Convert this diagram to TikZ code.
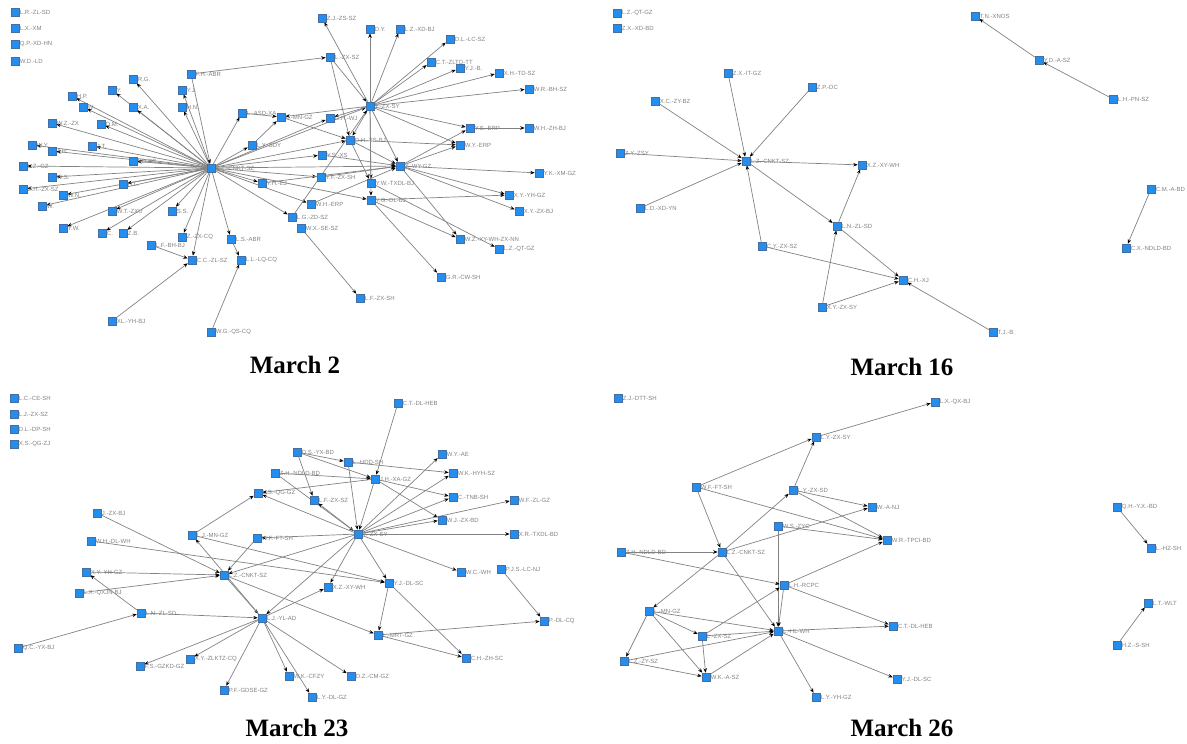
\documentclass[tikz,border=0pt]{standalone}
\usepackage{fontspec}
\setmainfont{Liberation Serif}
\setsansfont{Liberation Sans}
\usetikzlibrary{arrows.meta,backgrounds}
\tikzset{>={Stealth[length=4.5pt,width=3.5pt,color=black]},
  vx/.style={rectangle,draw={rgb,255:red,70;green,110;blue,160},fill={rgb,255:red,36;green,142;blue,238},
    line width=.5pt,minimum size=8pt,inner sep=0pt,label distance=1.5pt},
  lbl/.style={font=\sffamily\fontsize{6}{6}\selectfont,text={rgb,255:red,130;green,130;blue,130},inner sep=.5pt},
  ed/.style={->,draw={rgb,255:red,130;green,130;blue,130},line width=.7pt},
  ttl/.style={font=\bfseries\fontsize{25}{28}\selectfont}}

\begin{document}
\begin{tikzpicture}[x=1pt,y=-1pt]
    \useasboundingbox (0,0) rectangle (1187,744);
    % March 2
    \foreach \n/\x/\y/\lb in {p1a/15/12/{L.R.-ZL-SD},p1b/15/28/{L.X.-XM},p1c/15/44/{Q.P.-XD-HN},p1d/15/61/{W.D.-LD},
        p1e/322/18/{Z.J.-ZS-SZ},p1f/370/29/{D.Y.},p1g/400/29/{L.Z.-XD-BJ},p1h/450/39/{D.L.-LC-SZ},
        p1i/431/62/{C.T.-ZLTO-TT},p1j/460/68/{Y.J.-B.},p1k/499/73/{X.H.-TD-SZ},p1l/529/89/{W.R.-BH-SZ},
        p1m/330/57/{L.-ZX-SZ},p1n/191/74/{F.H.-ABR},p1o/133/79/{R.G.},p1p/112/90/{Y.},p1q/182/90/{Y.J.},
        p1r/72/96/{H.P.},p1s/83/107/{W.},p1t/133/107/{X.A.},p1u/182/107/{H.N.},p1v/52/123/{W.Z.-ZX},
        p1w/101/124/{D.M.},p1x/242/113/{L.-ASD-XA},p1y/281/117/{L.-MN-GZ},p1h2/370/106/{Y.-ZX-SY},
        p1z/330/118/{C.H.-WJ},p1h4/350/140/{D.H.-YS-BJ},p1aa/470/128/{Y.S.-ERP},p1ab/529/128/{W.H.-ZH-BJ},
        p1ac/460/145/{W.Y.-ERP},p1ad/322/155/{Y.S.-XS},p1h1/211/168/{L.Z.-CNKT-SZ},p1ae/32/145/{W.Y.},
        p1af/52/151/{J.H.},p1ag/92/146/{J.T.},p1ah/133/161/{XD-BS},p1ai/23/166/{L.Z.-GZ},p1aj/52/177/{W.S.},
        p1ak/23/189/{Z.H.-ZX-SZ},p1al/63/195/{W.N.},p1am/123/184/{H.L.},p1an/42/206/{W.},p1ao/112/211/{W.T.-ZXU},
        p1ap/63/228/{Y.W.},p1aq/102/233/{C.},p1ar/123/233/{Z.B.},p1as/172/211/{S.S.},p1at/182/237/{Z.-ZX-CQ},
        p1au/151/245/{L.F.-BH-BJ},p1av/231/239/{L.S.-ABR},p1aw/192/260/{C.C.-ZL-SZ},p1ax/241/260/{L.L.-LQ-CQ},
        p1ay/112/321/{XL.-YH-BJ},p1az/211/332/{W.G.-QS-CQ},p1ba/262/183/{Y.H.-EJ},p1bb/321/177/{Y.F.-ZX-SH},
        p1bc/371/183/{Y.W.-TXDL-BJ},p1bd/371/200/{Y.G.-DL-BJ},p1be/311/204/{W.H.-ERP},p1bf/292/217/{L.G.-ZD-SZ},
        p1bg/301/228/{W.X.-SE-SZ},p1bh/360/298/{L.F.-ZX-SH},p1bi/441/277/{G.R.-CW-SH},
        p1bj/460/239/{W.Z.-XY-WH-ZX-NN},p1bk/499/249/{L.Z.-QT-GZ},p1bl/509/195/{X.Y.-YH-GZ},
        p1bm/519/211/{X.Y.-ZX-BJ},p1bn/539/173/{Y.K.-XM-GZ},p1h3/400/166/{Y.-WY-GZ},p1bo/252/145/{L.Y.-SDY}}
      \node[vx,label={[lbl]right:\lb}] (\n) at (\x,\y) {};
    % March 16
    \foreach \n/\x/\y/\lb in {p2a/617/13/{L.Z.-QT-GZ},p2b/617/28/{Z.X.-XD-BD},p2c/728/73/{Z.X.-IT-GZ},
        p2d/812/87/{Z.P.-DC},p2e/655/101/{X.C.-ZY-BZ},p2f/620/153/{Z.Y.-ZSY},p2h/746/161/{L.Z.-CNKT-SZ},
        p2g/862/165/{X.Z.-XY-WH},p2i/640/208/{L.D.-XD-YN},p2j/837/226/{L.N.-ZL-SD},p2k/762/246/{C.Y.-ZX-SZ},
        p2l/903/280/{C.H.-XJ},p2m/822/307/{X.Y.-ZX-SY},p2n/993/332/{T.J.-B.},p2o/975/16/{T.N.-XNOS},
        p2p/1039/60/{Y.D.-A-SZ},p2q/1113/99/{L.H.-PN-SZ},p2r/1151/189/{C.M.-A-BD},p2s/1126/248/{C.X.-NDLD-BD}}
      \node[vx,label={[lbl]right:\lb}] (\n) at (\x,\y) {};
    % March 23
    \foreach \n/\x/\y/\lb in {p3a/14/398/{L.C.-CE-SH},p3b/14/414/{L.J.-ZX-SZ},p3c/14/429/{D.L.-DP-SH},
        p3d/14/444/{X.S.-QG-ZJ},p3e/97/513/{J.-ZX-BJ},p3f/91/541/{W.H.-DL-WH},p3g/192/535/{L.J.-MN-GZ},
        p3h/257/538/{W.F.-FT-SH},p3i/258/493/{L.S.-QG-GZ},p3j/275/473/{Z.H.-NDLD-BD},p3k/297/452/{D.S.-YX-BD},
        p3l/398/403/{C.T.-DL-HEB},p3m/348/462/{L.-HDD-SH},p3n/442/454/{W.Y.-AE},p3o/453/473/{W.K.-HYH-SZ},
        p3hb/375/479/{J.H.-XA-GZ},p3p/314/500/{L.F.-ZX-SZ},p3q/453/497/{C.-TNB-SH},p3r/514/500/{W.F.-ZL-GZ},
        p3s/442/520/{W.J.-ZX-BD},p3ha/358/534/{Y.-ZX-SY},p3t/514/534/{X.R.-TXDL-BD},p3u/86/572/{X.Y.-YH-GZ},
        p3v/79/593/{L.X.-QXJN-BJ},p3hc/224/575/{L.Z.-CNKT-SZ},p3w/141/613/{L.N.-ZL-SD},p3x/18/648/{Q.C.-YX-BJ},
        p3y/140/666/{F.S.-GZKD-GZ},p3z/190/659/{X.Y.-ZLKTZ-CQ},p3aa/224/690/{P.F.-GDSE-GZ},
        p3ab/289/676/{W.K.-CFZY},p3ac/312/697/{L.Y.-DL-GZ},p3ad/351/676/{D.Z.-CM-GZ},p3hd/262/618/{L.J.-YL-AD},
        p3ae/328/587/{X.Z.-XY-WH},p3af/389/583/{Y.J.-DL-SC},p3ag/378/635/{L.-MRT-GZ},p3ah/466/658/{C.H.-ZH-SC},
        p3ai/461/572/{W.C.-WH},p3aj/501/569/{P.J.S.-LC-NJ},p3ak/544/621/{P.-DL-CQ}}
      \node[vx,label={[lbl]right:\lb}] (\n) at (\x,\y) {};
    % March 26
    \foreach \n/\x/\y/\lb in {p4a/618/398/{Z.J.-DTT-SH},p4b/816/437/{L.Y.-ZX-SY},p4c/935/402/{L.X.-QX-BJ},
        p4d/696/487/{W.F.-FT-SH},p4e/793/490/{L.Y.-ZX-SD},p4f/872/507/{W.-A-NJ},p4g/778/526/{W.S.-ZYC},
        p4h/887/540/{W.R.-TPCI-BD},p4i/621/552/{Z.H.-NDLD-BD},p4ha/722/552/{L.Z.-CNKT-SZ},p4j/784/585/{L.H.-RCPC},
        p4k/649/611/{L.-MN-GZ},p4l/702/636/{L.-ZX-SZ},p4hb/778/631/{L.-HL-WH},p4m/893/626/{C.T.-DL-HEB},
        p4n/624/661/{L.Z.-ZY-SZ},p4o/706/677/{W.K.-A-SZ},p4p/897/679/{Y.J.-DL-SC},p4q/816/697/{L.Y.-YH-GZ},
        p4r/1117/507/{Q.H.-Y.X.-BD},p4s/1151/548/{L.-HZ-SH},p4t/1148/603/{L.T.-WLT},p4u/1117/645/{H.Z.-S-SH}}
      \node[vx,label={[lbl]right:\lb}] (\n) at (\x,\y) {};

    \begin{scope}[on background layer]
    \foreach \a/\b in {p1h1/p1o,p1h1/p1p,p1h1/p1q,p1h1/p1r,p1h1/p1s,p1h1/p1t,p1h1/p1u,p1h1/p1v,p1h1/p1w,
        p1h1/p1ae,p1h1/p1af,p1h1/p1ag,p1h1/p1ah,p1h1/p1ai,p1h1/p1aj,p1h1/p1ak,p1h1/p1al,p1h1/p1am,p1h1/p1an,
        p1h1/p1ao,p1h1/p1ap,p1h1/p1aq,p1h1/p1ar,p1h1/p1as,p1h1/p1at,p1h1/p1av,p1h1/p1aw,p1h1/p1x,p1h1/p1bo,
        p1n/p1h1,p1h1/p1h2,p1h1/p1h4,p1h1/p1h3,p1h1/p1ba,p1h1/p1bb,p1h1/p1bd,p1h1/p1be,p1h1/p1bf,p1h1/p1z,
        p1h1/p1ad,p1n/p1m,p1m/p1h2,p1m/p1h4,p1h2/p1e,p1h2/p1f,p1h2/p1g,p1h2/p1h,p1h2/p1i,p1h2/p1j,p1h2/p1k,
        p1h2/p1l,p1h2/p1aa,p1h2/p1ac,p1h2/p1h3,p1h2/p1h4,p1h2/p1z,p1h2/p1y,p1h2/p1bc,p1h2/p1bd,p1aa/p1ab,
        p1h3/p1bn,p1h3/p1bl,p1h3/p1bm,p1h3/p1bj,p1h4/p1h3,p1bb/p1h3,p1be/p1h3,p1h3/p1ac,p1h3/p1aa,p1ad/p1h3,
        p1bd/p1bl,p1bd/p1bi,p1bd/p1bj,p1bc/p1bk,p1bg/p1bh,p1h4/p1bc,p1h4/p1ac,p1y/p1h4,p1x/p1y,p1bo/p1y,
        p1au/p1aw,p1ay/p1aw,p1az/p1ax,p1av/p1ax,p1ba/p1h3,p1bf/p1h2,
        p2c/p2h,p2d/p2h,p2e/p2h,p2f/p2h,p2i/p2h,p2k/p2h,p2h/p2g,p2h/p2j,p2j/p2g,p2j/p2l,p2k/p2l,p2m/p2j,
        p2m/p2l,p2n/p2l,p2p/p2o,p2q/p2p,p2r/p2s,
        p3l/p3hb,p3k/p3m,p3k/p3hb,p3k/p3p,p3m/p3ha,p3m/p3o,p3j/p3hb,p3j/p3ha,p3hb/p3ha,p3hb/p3s,p3hb/p3q,
        p3hb/p3i,p3ha/p3n,p3ha/p3o,p3ha/p3q,p3ha/p3s,p3ha/p3t,p3ha/p3r,p3ha/p3p,p3ha/p3i,p3ha/p3h,p3ha/p3hc,
        p3ha/p3hd,p3ha/p3ae,p3ha/p3ai,p3ha/p3af,p3e/p3hc,p3f/p3af,p3u/p3hc,p3v/p3hc,p3w/p3u,p3x/p3w,
        p3w/p3hd,p3hc/p3hd,p3hd/p3g,p3g/p3i,p3h/p3hc,p3hc/p3ag,p3hd/p3y,p3hd/p3z,p3hd/p3aa,p3hd/p3ab,
        p3hd/p3ac,p3hd/p3ad,p3hd/p3ae,p3af/p3ag,p3af/p3ah,p3ag/p3ak,p3ag/p3ah,p3aj/p3ak,p3g/p3af,
        p4b/p4c,p4d/p4b,p4e/p4b,p4d/p4ha,p4d/p4h,p4e/p4f,p4e/p4h,p4ha/p4e,p4ha/p4f,p4g/p4h,p4g/p4hb,
        p4i/p4ha,p4i/p4j,p4ha/p4k,p4ha/p4hb,p4j/p4h,p4j/p4hb,p4j/p4m,p4k/p4hb,p4k/p4n,p4k/p4o,p4k/p4l,
        p4l/p4j,p4l/p4o,p4l/p4hb,p4n/p4hb,p4n/p4o,p4o/p4hb,p4hb/p4m,p4hb/p4p,p4hb/p4q,p4r/p4s,p4u/p4t}
      \draw[ed] (\a) -- (\b);
    \end{scope}

    \node[ttl] (t1) at (295,365) {March 2};
    \node[ttl] (t2) at (902,367) {March 16};
    \node[ttl] (t3) at (297,728) {March 23};
    \node[ttl] (t4) at (902,728) {March 26};
\end{tikzpicture}
\end{document}
